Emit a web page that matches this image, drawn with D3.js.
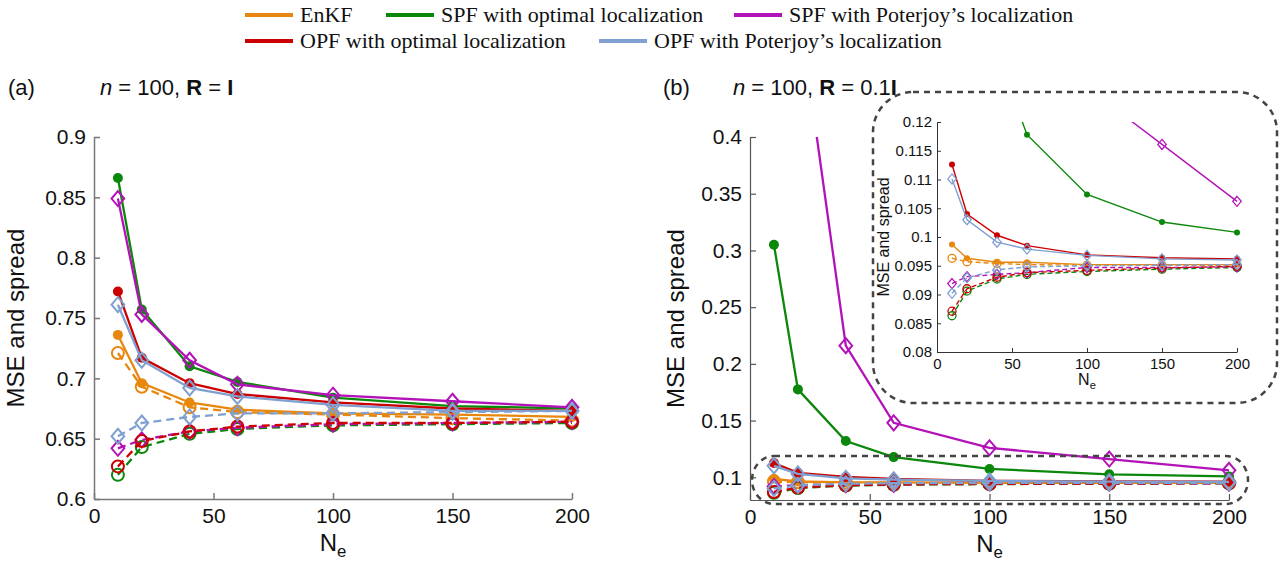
<!DOCTYPE html>
<html>
<head>
<meta charset="utf-8">
<script src="https://cdn.jsdelivr.net/npm/d3@7"></script>
<style>
  body { margin: 0; background: #fff; }
</style>
</head>
<body>
<svg id="chart" width="1282" height="566"></svg>
<script>
// ensemble sizes
var Ne = [10, 20, 40, 60, 100, 150, 200];
var xTicks = [0, 50, 100, 150, 200];
var yTicksA = [0.6, 0.65, 0.7, 0.75, 0.8, 0.85, 0.9];
var yTicksB = [0.1, 0.15, 0.2, 0.25, 0.3, 0.35, 0.4];
var yTicksInset = [0.08, 0.085, 0.09, 0.095, 0.1, 0.105, 0.11, 0.115, 0.12];

var methodNames = ["EnKF", "SPF with optimal localization", "SPF with Poterjoy’s localization",
                   "OPF with optimal localization", "OPF with Poterjoy’s localization"];
var methodColors = ["#E8870E", "#0B870B", "#B312B8", "#CC0000", "#7FA0D0"];
var methodMarkers = ["circle", "circle", "diamond", "circle", "diamond"];

// (a) n = 100, R = I
var enkfMseA    = [0.736, 0.696, 0.680, 0.674, 0.671, 0.670, 0.668];
var enkfSprA    = [0.721, 0.693, 0.676, 0.672, 0.670, 0.667, 0.665];
var spfOptMseA  = [0.866, 0.757, 0.710, 0.697, 0.684, 0.677, 0.675];
var spfOptSprA  = [0.620, 0.643, 0.654, 0.658, 0.661, 0.662, 0.663];
var spfPotMseA  = [0.849, 0.753, 0.715, 0.695, 0.686, 0.681, 0.676];
var spfPotSprA  = [0.642, 0.649, 0.656, 0.659, 0.662, 0.663, 0.664];
var opfOptMseA  = [0.772, 0.717, 0.696, 0.687, 0.680, 0.675, 0.673];
var opfOptSprA  = [0.627, 0.648, 0.656, 0.660, 0.663, 0.663, 0.664];
var opfPotMseA  = [0.761, 0.715, 0.692, 0.685, 0.678, 0.673, 0.673];
var opfPotSprA  = [0.652, 0.663, 0.668, 0.671, 0.671, 0.672, 0.673];

// (b) n = 100, R = 0.1I
var enkfMseB    = [0.0987, 0.0963, 0.0956, 0.0956, 0.0952, 0.0952, 0.0952];
var enkfSprB    = [0.0963, 0.0957, 0.0954, 0.0952, 0.0951, 0.0951, 0.0951];
var spfOptMseB  = [0.305, 0.1775, 0.132, 0.1178, 0.1074, 0.1026, 0.1008];
var spfOptSprB  = [0.0863, 0.0906, 0.0927, 0.0935, 0.0940, 0.0944, 0.0947];
var spfPotMseB  = [0.85, 0.52, 0.216, 0.148, 0.126, 0.1161, 0.1062];
var spfPotSprB  = [0.0919, 0.0931, 0.0935, 0.0938, 0.0947, 0.0947, 0.0948];
var opfOptMseB  = [0.1126, 0.1040, 0.1003, 0.0985, 0.0969, 0.0964, 0.0962];
var opfOptSprB  = [0.0871, 0.0910, 0.0930, 0.0938, 0.0942, 0.0946, 0.0949];
var opfPotMseB  = [0.1101, 0.1030, 0.0991, 0.0979, 0.0968, 0.0962, 0.0960];
var opfPotSprB  = [0.0902, 0.0929, 0.0943, 0.0948, 0.0950, 0.0951, 0.0952];

var mseA = [enkfMseA, spfOptMseA, spfPotMseA, opfOptMseA, opfPotMseA];
var sprA = [enkfSprA, spfOptSprA, spfPotSprA, opfOptSprA, opfPotSprA];
var mseB = [enkfMseB, spfOptMseB, spfPotMseB, opfOptMseB, opfPotMseB];
var sprB = [enkfSprB, spfOptSprB, spfPotSprB, opfOptSprB, opfPotSprB];

var svg = d3.select("#chart");
var sans = "Liberation Sans, Arial, Helvetica, sans-serif";
var serif = "Liberation Serif, Times New Roman, serif";
var defs = svg.append("defs");

function fmt(d) { return String(+d.toFixed(3)); }

function makeAxes(g, x, y, yTicks, o) {
  var ax = g.append("g")
      .attr("transform", "translate(0," + o.yBot + ")")
      .call(d3.axisBottom(x).tickValues(xTicks).tickSizeInner(-o.tick).tickSizeOuter(0).tickPadding(o.padX));
  var ay = g.append("g")
      .attr("transform", "translate(" + o.x0 + ",0)")
      .call(d3.axisLeft(y).tickValues(yTicks).tickFormat(fmt).tickSizeInner(-o.tick).tickSizeOuter(0).tickPadding(o.padY));
  [ax, ay].forEach(function(a) {
    a.selectAll("path, line").attr("stroke", o.axisColor).attr("stroke-width", o.axisWidth);
    a.selectAll("text").attr("font-family", sans).attr("font-size", o.fs).attr("fill", "#111");
  });
}

function drawMethod(g, x, y, mse, spr, color, marker, st) {
  var line = d3.line().x(function(d, i) { return x(Ne[i]); }).y(function(d) { return y(d); });
  [[spr, true], [mse, false]].forEach(function(pair) {
    var vals = pair[0], dashed = pair[1];
    g.append("path")
      .attr("d", line(vals))
      .attr("fill", "none")
      .attr("stroke", color)
      .attr("stroke-width", st.lw)
      .attr("stroke-dasharray", dashed ? st.dash : null);
    var filled = !dashed && marker === "circle";
    var pts = g.append("g").selectAll("g").data(vals).enter().append("g")
      .attr("transform", function(d, i) { return "translate(" + x(Ne[i]) + "," + y(d) + ")"; });
    if (marker === "circle") {
      pts.append("circle")
        .attr("r", filled ? st.rFill : st.rOpen)
        .attr("fill", filled ? color : "none")
        .attr("stroke", color)
        .attr("stroke-width", filled ? 0 : st.mw);
    } else {
      var h = st.dia, w = st.dia * 0.85;
      pts.append("path")
        .attr("d", "M0," + (-h) + "L" + w + ",0L0," + h + "L" + (-w) + ",0Z")
        .attr("fill", "none")
        .attr("stroke", color)
        .attr("stroke-width", st.mw);
    }
  });
}

function drawPanel(o, mse, spr, yTicks, st) {
  var g = svg.append("g");
  var x = d3.scaleLinear().domain([0, 200]).range([o.x0, o.x1]);
  var y = d3.scaleLinear().domain(o.yDomain).range([o.yBot, o.yTop]);
  makeAxes(g, x, y, yTicks, o);
  defs.append("clipPath").attr("id", o.id)
    .append("rect").attr("x", o.x0 - 30).attr("y", o.yTop).attr("width", o.x1 - o.x0 + 60).attr("height", o.yBot - o.yTop + 40);
  var data = g.append("g").attr("clip-path", "url(#" + o.id + ")");
  for (var k = 0; k < methodNames.length; k++) {
    drawMethod(data, x, y, mse[k], spr[k], methodColors[k], methodMarkers[k], st);
  }
  // y label
  g.append("text")
    .attr("transform", "translate(" + o.yLabX + "," + ((o.yTop + o.yBot) / 2) + ") rotate(-90)")
    .attr("text-anchor", "middle")
    .attr("font-family", sans).attr("font-size", o.labFs).attr("fill", "#111")
    .text("MSE and spread");
  // x label N_e
  var xl = g.append("text")
    .attr("x", (o.x0 + o.x1) / 2).attr("y", o.xLabY)
    .attr("text-anchor", "middle")
    .attr("font-family", sans).attr("font-size", o.labFs).attr("fill", "#111");
  xl.append("tspan").text("N");
  xl.append("tspan").attr("dy", o.labFs * 0.27).attr("font-size", o.labFs * 0.7).text("e");
  return g;
}

var bigStyle = { lw: 2.3, dash: "8,5", rFill: 5, rOpen: 6, dia: 7.5, mw: 2 };
var smallStyle = { lw: 1.4, dash: "5,3", rFill: 3, rOpen: 4, dia: 5, mw: 1.3 };

drawPanel({ id: "clipA", x0: 94, x1: 572, yTop: 137, yBot: 499, yDomain: [0.6, 0.9],
            tick: 6, padX: 9, padY: 8, fs: 21, labFs: 24, yLabX: 24, xLabY: 551,
            axisColor: "#777", axisWidth: 1.5 }, mseA, sprA, yTicksA, bigStyle);

drawPanel({ id: "clipB", x0: 750, x1: 1229, yTop: 137, yBot: 500, yDomain: [0.08, 0.4],
            tick: 6, padX: 9, padY: 8, fs: 21, labFs: 24, yLabX: 684, xLabY: 552,
            axisColor: "#555", axisWidth: 1.2 }, mseB, sprB, yTicksB, bigStyle);

// dashed rounded box around the zoomed region
svg.append("rect")
  .attr("x", 752).attr("y", 456).attr("width", 496).attr("height", 48)
  .attr("rx", 22).attr("ry", 24)
  .attr("fill", "none").attr("stroke", "#444").attr("stroke-width", 2.5).attr("stroke-dasharray", "6,5");

// inset frame
svg.append("rect")
  .attr("x", 873).attr("y", 92).attr("width", 404).attr("height", 311)
  .attr("rx", 40).attr("ry", 40)
  .attr("fill", "#fff").attr("stroke", "#444").attr("stroke-width", 2.5).attr("stroke-dasharray", "6,5");

drawPanel({ id: "clipI", x0: 937, x1: 1237, yTop: 122, yBot: 352, yDomain: [0.08, 0.12],
            tick: 4, padX: 6, padY: 5, fs: 15, labFs: 16, yLabX: 889, xLabY: 385,
            axisColor: "#333", axisWidth: 1 }, mseB, sprB, yTicksInset, smallStyle);

// panel titles
function title(x0, lab, x1, rhs) {
  svg.append("text").attr("x", x0).attr("y", 95)
    .attr("font-family", sans).attr("font-size", 22).attr("fill", "#111").text(lab);
  var t = svg.append("text").attr("x", x1).attr("y", 95)
    .attr("font-family", sans).attr("font-size", 22).attr("fill", "#111");
  t.append("tspan").attr("font-style", "italic").text("n");
  t.append("tspan").text(" = 100, ");
  t.append("tspan").attr("font-weight", "bold").text("R");
  t.append("tspan").text(" = " + rhs);
  t.append("tspan").attr("font-weight", "bold").text("I");
}
title(8, "(a)", 100, "");
title(663, "(b)", 733, "0.1");

// legend
var legendPos = [
  { lx: 245, ly: 15 }, { lx: 386, ly: 15 }, { lx: 734, ly: 15 },
  { lx: 245, ly: 41 }, { lx: 599, ly: 41 }
];
var leg = svg.append("g").selectAll("g").data(methodNames).enter().append("g")
  .attr("transform", function(d, i) { return "translate(" + legendPos[i].lx + "," + legendPos[i].ly + ")"; });
leg.append("line").attr("x1", 0).attr("x2", 48).attr("y1", 0).attr("y2", 0)
  .attr("stroke", function(d, i) { return methodColors[i]; }).attr("stroke-width", 4);
leg.append("text").attr("x", 55).attr("y", 7)
  .attr("font-family", serif).attr("font-size", 22).attr("fill", "#111")
  .text(function(d) { return d; });
</script>
</body>
</html>
